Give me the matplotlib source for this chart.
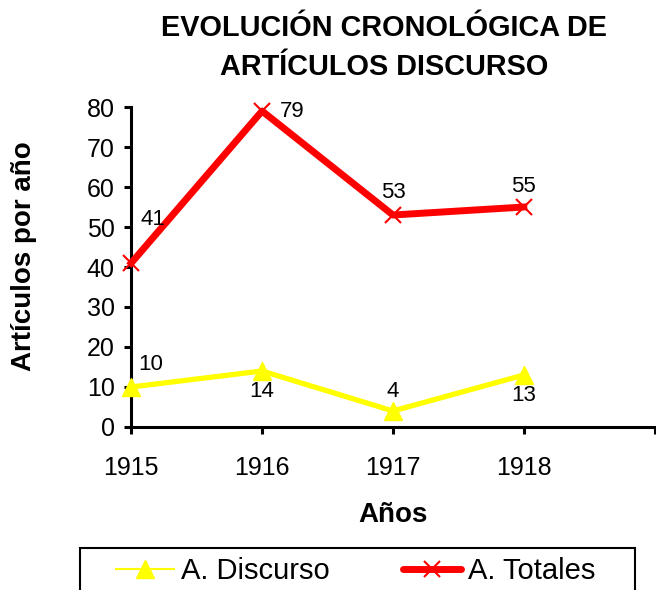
import matplotlib
matplotlib.use('Agg')
import matplotlib.pyplot as plt
from matplotlib.lines import Line2D
from matplotlib.patches import Rectangle

plt.rcParams['font.family'] = ['Liberation Sans', 'DejaVu Sans']

# datos
anios = ['1915', '1916', '1917', '1918']
discurso = [10, 14, 4, 13]
totales = [41, 79, 53, 55]

# desplazamientos de las etiquetas (puntos)
off_totales = [(16, 31), (22, 0), (0, 16), (0, 15)]
off_discurso = [(14, 16), (0, -15), (0, 14), (0, -15)]

fig = plt.figure(figsize=(6.56, 5.9), dpi=100)
ax = fig.add_axes([0.2, 0.2763, 0.798, 0.5423])

x = list(range(len(anios)))
ax.plot(x, discurso, color='#ffff00', lw=3.8, marker='^', ms=13,
        mec='#ffff00', mfc='#ffff00', zorder=3, clip_on=False)
ax.plot(x, totales, color='#ff0000', lw=5, marker='x', ms=12,
        mew=1.5, mec='#ff0000', zorder=3, clip_on=False)

for xi, v, off in zip(x, totales, off_totales):
    ax.annotate(str(v), (xi, v), xytext=off, textcoords='offset points',
                ha='center', va='center', fontsize=16)
for xi, v, off in zip(x, discurso, off_discurso):
    ax.annotate(str(v), (xi, v), xytext=off, textcoords='offset points',
                ha='center', va='center', fontsize=16)

ax.set_xlim(0, 4)
ax.set_ylim(0, 80)
ax.set_xticks(range(5))
ax.set_xticklabels(anios + [''])
ax.set_yticks(range(0, 81, 10))
ax.tick_params(axis='both', labelsize=18, width=2.2, length=5, colors='black')
ax.tick_params(axis='x', pad=16)
ax.tick_params(axis='y', pad=7)
ax.spines['top'].set_visible(False)
ax.spines['right'].set_visible(False)
ax.spines['left'].set_linewidth(2.2)
ax.spines['bottom'].set_linewidth(2.2)

ax.set_xlabel('Años', fontsize=20, fontweight='bold', labelpad=16)
ax.set_ylabel('Artículos por año', fontsize=20, fontweight='bold', va='center')
ax.yaxis.set_label_coords(-0.204, 0.534)

fig.text(0.585, 0.919, 'EVOLUCIÓN CRONOLÓGICA DE\nARTÍCULOS DISCURSO',
         ha='center', va='center', fontsize=20.8, fontweight='bold', linespacing=1.5)

# leyenda
handles = [
    Line2D([], [], color='#ffff00', lw=1.5, marker='^', ms=13),
    Line2D([], [], color='#ff0000', lw=5, marker='x', ms=12, mew=1.5,
           solid_capstyle='round'),
]
leg = fig.legend(handles, ['A. Discurso', 'A. Totales'], ncol=2,
                 loc='center left', bbox_to_anchor=(116 / 656, 1 - 571 / 590),
                 fontsize=21, frameon=False, borderpad=0, borderaxespad=0,
                 handlelength=2.0, handletextpad=0.24, columnspacing=2.5)
fig.patches.append(Rectangle((80 / 656, -0.05), 555 / 656, 0.05 + 1 - 548 / 590,
                             transform=fig.transFigure, fill=False,
                             edgecolor='black', lw=1.5))

fig.savefig('out.png', dpi=100)
